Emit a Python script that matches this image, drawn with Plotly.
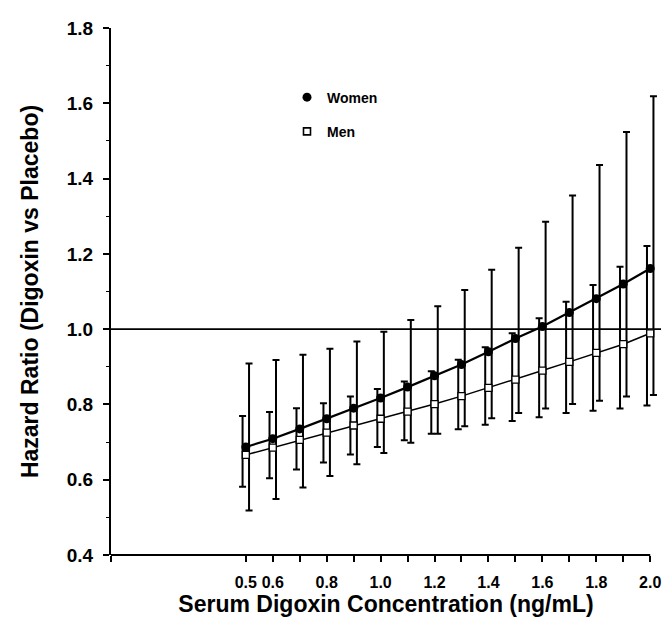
import plotly.graph_objects as go

# ---------------- data ----------------
conc = [0.5, 0.6, 0.7, 0.8, 0.9, 1.0, 1.1, 1.2, 1.3, 1.4, 1.5, 1.6, 1.7, 1.8, 1.9, 2.0]

women_hr = [0.687, 0.709, 0.735, 0.762, 0.790, 0.817, 0.846, 0.876, 0.906, 0.940, 0.975, 1.007, 1.044, 1.081, 1.120, 1.161]
women_lo = [0.518, 0.549, 0.579, 0.610, 0.641, 0.671, 0.698, 0.722, 0.742, 0.763, 0.777, 0.789, 0.801, 0.810, 0.821, 0.825]
women_hi = [0.909, 0.918, 0.932, 0.948, 0.967, 0.993, 1.024, 1.061, 1.104, 1.158, 1.216, 1.285, 1.355, 1.436, 1.524, 1.619]

men_hr = [0.666, 0.685, 0.706, 0.725, 0.744, 0.762, 0.781, 0.801, 0.822, 0.844, 0.866, 0.890, 0.913, 0.937, 0.960, 0.989]
men_lo = [0.581, 0.604, 0.627, 0.646, 0.667, 0.687, 0.705, 0.722, 0.734, 0.746, 0.756, 0.766, 0.777, 0.783, 0.789, 0.797]
men_hi = [0.769, 0.780, 0.790, 0.803, 0.821, 0.841, 0.861, 0.888, 0.919, 0.952, 0.989, 1.029, 1.073, 1.117, 1.166, 1.221]

x_tickvals = [0.0] + conc
x_ticklabels = ["", "0.5", "0.6", "", "0.8", "", "1.0", "", "1.2", "", "1.4", "", "1.6", "", "1.8", "", "2.0"]
y_tickvals = [0.4, 0.6, 0.8, 1.0, 1.2, 1.4, 1.6, 1.8]
y_ticklabels = ["0.4", "0.6", "0.8", "1.0", "1.2", "1.4", "1.6", "1.8"]

# ---------------- styling ----------------
FONT = "Liberation Sans, Arial, Helvetica, sans-serif"
BAR_SHIFT = 0.012  # horizontal offset of CI bars (men left, women right)

fig = go.Figure()

# confidence-interval bars (drawn first, underneath markers)
fig.add_trace(go.Scatter(
    x=[c - BAR_SHIFT for c in conc], y=men_hr, mode="markers",
    marker=dict(size=1, opacity=0), showlegend=False, hoverinfo="skip",
    error_y=dict(type="data", symmetric=False,
                 array=[h - v for h, v in zip(men_hi, men_hr)],
                 arrayminus=[v - l for v, l in zip(men_hr, men_lo)],
                 color="black", thickness=2, width=3.5),
))
fig.add_trace(go.Scatter(
    x=[c + BAR_SHIFT for c in conc], y=women_hr, mode="markers",
    marker=dict(size=1, opacity=0), showlegend=False, hoverinfo="skip",
    error_y=dict(type="data", symmetric=False,
                 array=[h - v for h, v in zip(women_hi, women_hr)],
                 arrayminus=[v - l for v, l in zip(women_hr, women_lo)],
                 color="black", thickness=2, width=3.5),
))

# lines with markers
fig.add_trace(go.Scatter(
    x=conc, y=men_hr, mode="lines+markers", name="Men", showlegend=False,
    line=dict(color="black", width=1.5),
    marker=dict(symbol="square", size=7, color="white", line=dict(color="black", width=1.3)),
))
fig.add_trace(go.Scatter(
    x=conc, y=women_hr, mode="lines+markers", name="Women", showlegend=False,
    line=dict(color="black", width=2.2),
    marker=dict(symbol="circle", size=9, color="black"),
))

# legend-only traces
fig.add_trace(go.Scatter(
    x=[None], y=[None], mode="markers", name="Women", legend="legend",
    marker=dict(symbol="circle", size=9, color="black"),
))
fig.add_trace(go.Scatter(
    x=[None], y=[None], mode="markers", name="Men", legend="legend2",
    marker=dict(symbol="square", size=7, color="white", line=dict(color="black", width=1.6)),
))

# reference line at HR = 1.0 across the plot, and x axis line up to 2.0
fig.add_shape(type="line", xref="paper", yref="y", x0=0, x1=1, y0=1.0, y1=1.0,
              line=dict(color="black", width=1.6), layer="below")
fig.add_shape(type="line", xref="x", yref="paper", x0=0, x1=conc[-1], y0=0, y1=0,
              line=dict(color="black", width=2.2), layer="above")

legend_style = dict(font=dict(family=FONT, size=14, color="black", weight="bold"),
                    bgcolor="rgba(0,0,0,0)", borderwidth=0,
                    xanchor="left", yanchor="middle", itemclick=False)

fig.update_layout(
    width=670, height=618,
    margin=dict(l=103, r=17, t=20, b=71, autoexpand=False),
    paper_bgcolor="white", plot_bgcolor="white",
    font=dict(family=FONT, color="black"),
    legend=dict(x=0.32, y=0.868, **legend_style),
    legend2=dict(x=0.32, y=0.803, **legend_style),
    xaxis=dict(
        range=[0, 2.04], showgrid=False, zeroline=False, showline=False,
        automargin=False,
        tickmode="array", tickvals=x_tickvals, ticktext=x_ticklabels,
        ticks="outside", ticklen=6, tickwidth=1.5, tickcolor="black",
        ticklabelstandoff=7,
        tickfont=dict(family=FONT, size=16, color="black", weight="bold"),
        title=dict(text="Serum Digoxin Concentration (ng/mL)", standoff=5,
                   font=dict(family=FONT, size=23, color="black", weight="bold")),
    ),
    yaxis=dict(
        range=[0.4, 1.8], showgrid=False, zeroline=False,
        automargin=False,
        showline=True, linecolor="black", linewidth=2,
        tickmode="array", tickvals=y_tickvals, ticktext=y_ticklabels,
        ticks="outside", ticklen=6, tickwidth=1.5, tickcolor="black",
        ticklabelstandoff=6,
        minor=dict(dtick=0.1, ticks="outside", ticklen=3, tickwidth=1, tickcolor="black"),
        tickfont=dict(family=FONT, size=19, color="black", weight="bold"),
        title=dict(text="Hazard Ratio (Digoxin vs Placebo)", standoff=22,
                   font=dict(family=FONT, size=23, color="black", weight="bold")),
    ),
)

fig.write_html("out.html")
